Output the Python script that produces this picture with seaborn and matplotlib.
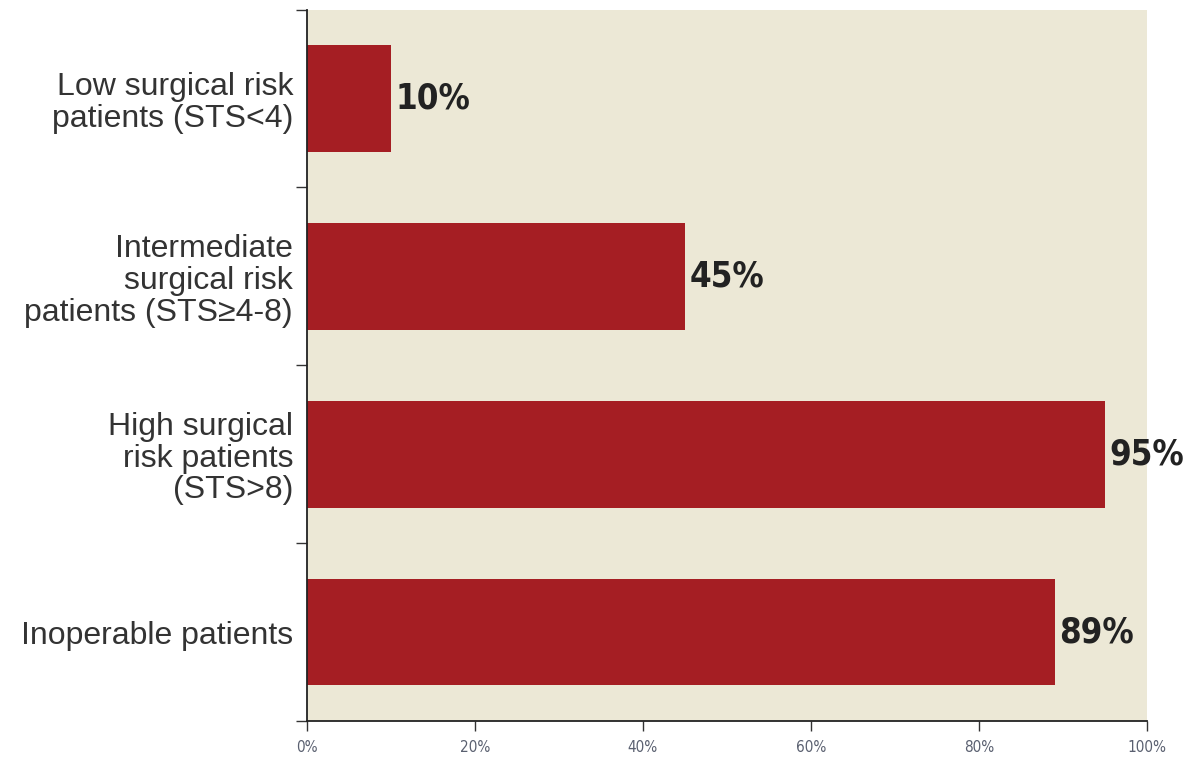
import numpy as np
import seaborn as sns
import matplotlib.pyplot as plt

# Data
categories = [
    "Low surgical risk\npatients (STS<4)",
    "Intermediate\nsurgical risk\npatients (STS\u22654-8)",
    "High surgical\nrisk patients\n(STS>8)",
    "Inoperable patients",
]
values = [10, 45, 95, 89]
xticks = [0, 20, 40, 60, 80, 100]

sns.set_style("ticks")
plt.rcParams['font.family'] = ['Liberation Sans', 'DejaVu Sans']

fig = plt.figure(figsize=(11.85, 7.65), dpi=100)
ax = fig.add_axes([0.259, 0.0575, 0.709, 0.93])
ax.set_facecolor('#ECE8D6')

sns.barplot(x=values, y=categories, orient='h', color='#A51E23',
            saturation=1, width=0.6, linewidth=0, ax=ax)

# value labels
labels = ax.bar_label(ax.containers[0], labels=[f"{v}%" for v in values],
                      padding=3, fontsize=25, color='#222222',
                      family='DejaVu Sans', fontstretch='condensed',
                      fontweight='bold')
for t in labels:
    t.set_clip_on(False)

ax.set_xlim(0, 100)
ax.set_ylim(3.5, -0.5)
ax.set_xticks(xticks)
ax.set_xticklabels([f"{t}%" for t in xticks], fontsize=11, color='#5a6070',
                   family='DejaVu Sans', fontstretch='condensed')
ax.tick_params(axis='x', length=7, width=1, color='#333333', pad=7)

# category labels at bar centres, tick marks at boundaries
ax.set_yticks(range(len(categories)))
ax.set_yticklabels(categories, fontsize=23, color='#333333',
                   multialignment='right', linespacing=1.08)
ax.tick_params(axis='y', which='major', length=0, pad=10)
ax.set_yticks(np.arange(-0.5, len(categories), 1.0), minor=True)
ax.tick_params(axis='y', which='minor', length=8, width=1, color='#333333')

ax.set_xlabel('')
ax.set_ylabel('')
sns.despine(ax=ax, top=True, right=True)
ax.spines['left'].set_color('#222222')
ax.spines['bottom'].set_color('#222222')
ax.spines['left'].set_linewidth(1.3)
ax.spines['bottom'].set_linewidth(1.3)

fig.savefig('out.png', dpi=100)
